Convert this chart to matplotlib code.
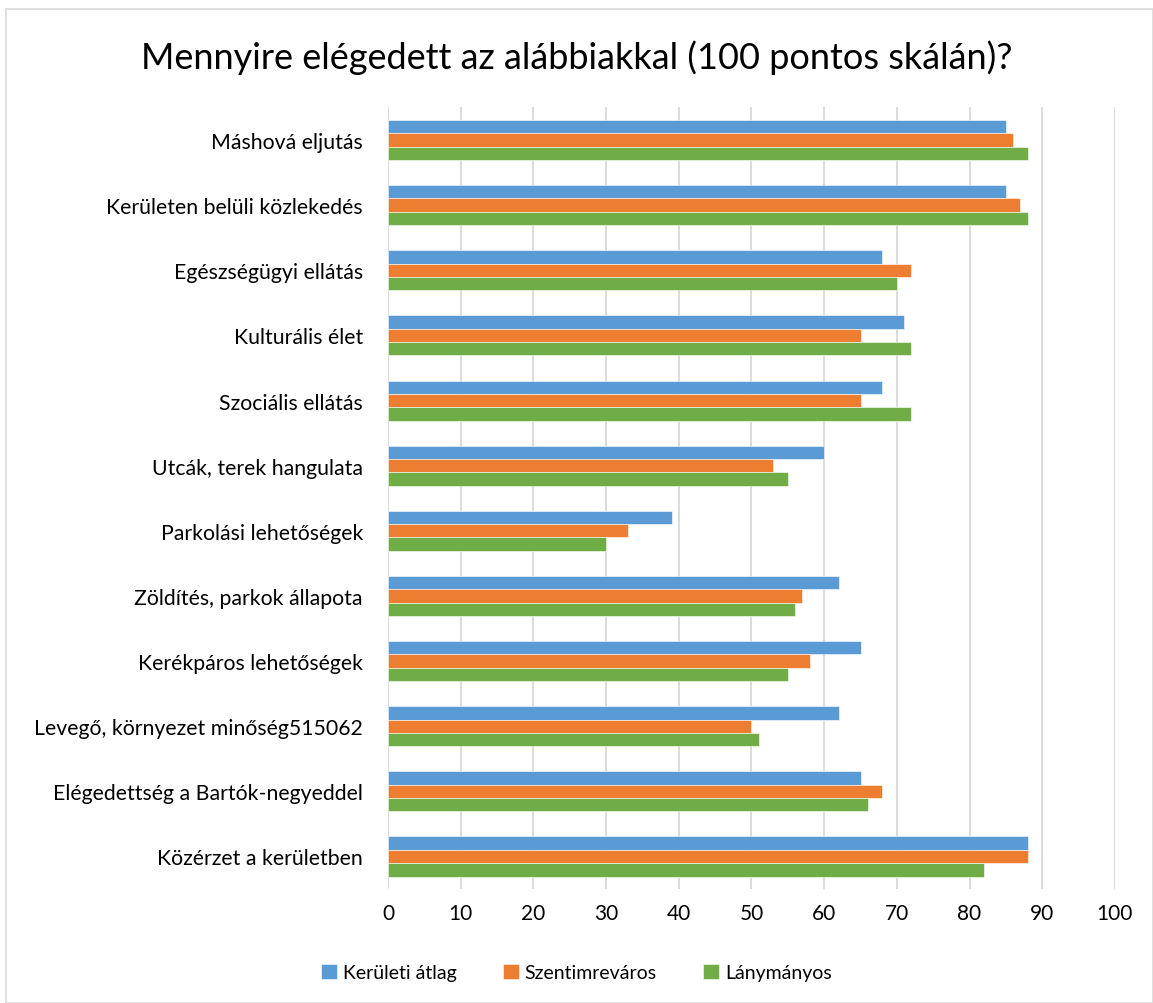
import numpy as np
import matplotlib.pyplot as plt
from matplotlib.patches import Rectangle

plt.rcParams['font.family'] = ['Lato', 'DejaVu Sans']

categories = [
    'Máshová eljutás',
    'Kerületen belüli közlekedés',
    'Egészségügyi ellátás',
    'Kulturális élet',
    'Szociális ellátás',
    'Utcák, terek hangulata',
    'Parkolási lehetőségek',
    'Zöldítés, parkok állapota',
    'Kerékpáros lehetőségek',
    'Levegő, környezet minőség515062',
    'Elégedettség a Bartók-negyeddel',
    'Közérzet a kerületben',
]
keruleti_atlag = [85, 85, 68, 71, 68, 60, 39, 62, 65, 62, 65, 88]
szentimreváros = [86, 87, 72, 65, 65, 53, 33, 57, 58, 50, 68, 88]
lanymanyos = [88, 88, 70, 72, 72, 55, 30, 56, 55, 51, 66, 82]

series = [
    ('Kerületi átlag', keruleti_atlag, '#5B9BD5'),
    ('Szentimreváros', szentimreváros, '#ED7D31'),
    ('Lánymányos', lanymanyos, '#70AD47'),
]

fig = plt.figure(figsize=(11.53, 10.04), dpi=100)
ax = fig.add_axes([0.3365, 0.1135, 0.6305, 0.7785])

y = np.arange(len(categories))
h = 0.205
for i, (name, vals, color) in enumerate(series):
    ax.barh(y + (i - 1) * h, vals, height=h, color=color, label=name,
            edgecolor='white', linewidth=0.4, zorder=3)

ax.set_ylim(len(categories) - 0.5, -0.5)
ax.set_xlim(0, 100)
ax.set_xticks(range(0, 101, 10))
ax.set_yticks(y)
ax.set_yticklabels(categories, fontsize=15.3)
ax.tick_params(axis='x', labelsize=15, length=0, pad=10)
ax.tick_params(axis='y', length=0, pad=18)
ax.grid(axis='x', color='#d9d9d9', linewidth=1.3, zorder=0)
for s in ax.spines.values():
    s.set_visible(False)

fig.suptitle('Mennyire elégedett az alábbiakkal (100 pontos skálán)?',
             fontsize=26, y=0.96)

fig.legend(loc='center', bbox_to_anchor=(0.5, 0.03), ncol=3, frameon=False,
           fontsize=14, handlelength=0.8, handleheight=0.8,
           columnspacing=2.4, handletextpad=0.3)

fig.patches.append(Rectangle((0.005, 0.0), 0.995, 0.99, transform=fig.transFigure,
                             fill=False, edgecolor='#d9d9d9', linewidth=1.2))

fig.savefig('out.png', dpi=100)
